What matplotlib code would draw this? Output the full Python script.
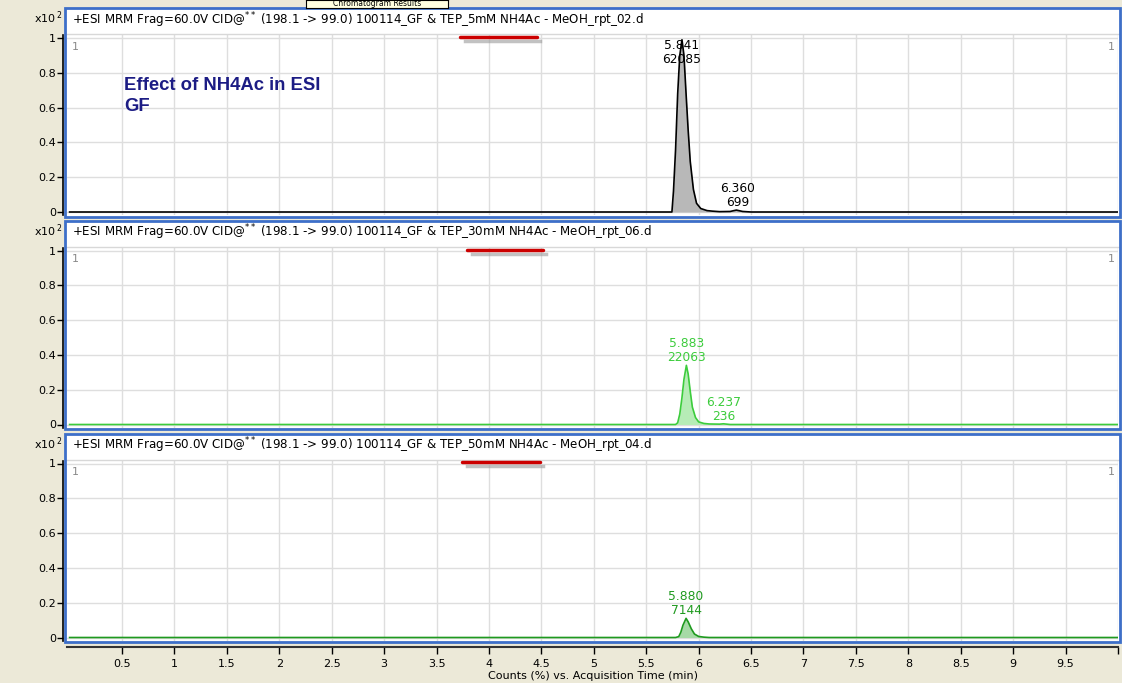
import matplotlib
matplotlib.use("Agg")
import matplotlib.pyplot as plt
from matplotlib.patches import Rectangle
from matplotlib.lines import Line2D

W, H = 1122, 683

# ---------------- data ----------------
headers = [
    "+ESI MRM Frag=60.0V CID@$^{**}$ (198.1 -> 99.0) 100114_GF & TEP_5mM NH4Ac - MeOH_rpt_02.d",
    "+ESI MRM Frag=60.0V CID@$^{**}$ (198.1 -> 99.0) 100114_GF & TEP_30mM NH4Ac - MeOH_rpt_06.d",
    "+ESI MRM Frag=60.0V CID@$^{**}$ (198.1 -> 99.0) 100114_GF & TEP_50mM NH4Ac - MeOH_rpt_04.d",
]

time_5mM = [0.0, 5.70, 5.745, 5.76, 5.78, 5.80, 5.82, 5.841, 5.86, 5.88, 5.90, 5.92,
            5.95, 5.98, 6.02, 6.08, 6.13, 6.20, 6.30, 6.36, 6.42, 6.50, 10.0]
resp_5mM = [0.0, 0.0, 0.0, 0.12, 0.36, 0.68, 0.90, 0.99, 0.90, 0.68, 0.47, 0.29,
            0.13, 0.05, 0.02, 0.008, 0.005, 0.002, 0.003, 0.011, 0.003, 0.0, 0.0]

time_30mM = [0.0, 5.78, 5.80, 5.82, 5.84, 5.86, 5.883, 5.90, 5.92, 5.94, 5.97,
             6.00, 6.05, 6.10, 6.20, 6.237, 6.30, 10.0]
resp_30mM = [0.0, 0.0, 0.01, 0.06, 0.15, 0.26, 0.34, 0.29, 0.19, 0.10, 0.04,
             0.015, 0.006, 0.003, 0.002, 0.004, 0.0, 0.0]

time_50mM = [0.0, 5.78, 5.81, 5.83, 5.85, 5.88, 5.90, 5.93, 5.96, 6.00, 6.05, 6.10, 10.0]
resp_50mM = [0.0, 0.0, 0.005, 0.03, 0.07, 0.11, 0.09, 0.05, 0.02, 0.006, 0.002, 0.0, 0.0]

peak_labels = [
    [(5.841, "5.841\n62085"), (6.370, "6.360\n699")],
    [(5.883, "5.883\n22063"), (6.237, "6.237\n236")],
    [(5.880, "5.880\n7144")],
]

series_t = [time_5mM, time_30mM, time_50mM]
series_v = [resp_5mM, resp_30mM, resp_50mM]

x_ticks = [0.5, 1, 1.5, 2, 2.5, 3, 3.5, 4, 4.5, 5, 5.5, 6, 6.5, 7, 7.5, 8, 8.5, 9, 9.5, 10]
x_ticklabels = ["0.5", "1", "1.5", "2", "2.5", "3", "3.5", "4", "4.5", "5", "5.5", "6",
                "6.5", "7", "7.5", "8", "8.5", "9", "9.5", ""]
y_ticks = [0, 0.2, 0.4, 0.6, 0.8, 1]
y_ticklabels = ["0", "0.2", "0.4", "0.6", "0.8", "1"]

# ---------------- style ----------------
line_colors = ["#000000", "#3ccc3c", "#1f9a1f"]
fill_colors = ["#b8b8b8", "#b6ecb6", "#a6daa6"]
label_colors = ["#000000", "#3ccc3c", "#1f9a1f"]
label_y = [[0.84, 0.017], [0.35, 0.01], [0.115]]
bg = "#ECE9D8"
blue = "#3D6FC9"

plt.rcParams["font.family"] = ["DejaVu Sans"]
fig = plt.figure(figsize=(W / 100, H / 100), dpi=100, facecolor=bg)


def fx(x):
    return x / W


def fy(y):
    return 1 - y / H


offsets = [0, 212.5, 425.5]
ax_left, ax_right = 67, 1118
for k in range(3):
    d = offsets[k]
    top_px, bot_px = 8 + d, 216.5 + d
    fig.patches.append(Rectangle((fx(65), fy(bot_px)), fx(1120) - fx(65), fy(top_px) - fy(bot_px),
                                 transform=fig.transFigure, facecolor="white",
                                 edgecolor="none", zorder=-5))
    fig.patches.append(Rectangle((fx(65), fy(bot_px)), fx(1120) - fx(65), fy(top_px) - fy(bot_px),
                                 transform=fig.transFigure, facecolor="none",
                                 edgecolor=blue, linewidth=2.0, zorder=5))
    fig.lines.append(Line2D([fx(66), fx(1119)], [fy(34 + d), fy(34 + d)], transform=fig.transFigure,
                            color="#d8d8d8", linewidth=1.0, zorder=4))
    fig.text(fx(72), fy(20 + d), headers[k], fontsize=8.6, va="center", ha="left", color="#000000",
             zorder=6)
    fig.text(fx(62), fy(18 + d), r"x10$^{\,2}$", fontsize=8, va="center", ha="right", color="#000000",
             zorder=6)

    a_top, a_bot = 35 + d, 215 + d
    ax = fig.add_axes([fx(ax_left), fy(a_bot), fx(ax_right) - fx(ax_left), fy(a_top) - fy(a_bot)])
    ax.set_zorder(1)
    ax.patch.set_alpha(0)
    ax.set_xlim(-0.025, 10.0)
    ax.set_ylim((212 - 215) / 174.0, (212 - 35) / 174.0)
    for s in ["top", "right", "bottom"]:
        ax.spines[s].set_visible(False)
    ax.spines["left"].set_position(("outward", 3))
    ax.spines["left"].set_color("black")
    ax.spines["left"].set_linewidth(1.2)
    ax.set_yticks(y_ticks)
    ax.set_yticklabels(y_ticklabels, fontsize=8)
    ax.tick_params(axis="y", direction="out", length=4, width=1, pad=1)
    ax.set_xticks(x_ticks)
    ax.grid(True, color="#dedede", linewidth=1.0)
    ax.set_axisbelow(True)
    if k < 2:
        ax.tick_params(axis="x", length=0, labelbottom=False)
    else:
        ax.spines["bottom"].set_visible(True)
        ax.spines["bottom"].set_position(("outward", 5))
        ax.spines["bottom"].set_color("#333333")
        ax.spines["bottom"].set_linewidth(1.5)
        ax.set_xticklabels(x_ticklabels, fontsize=8)
        ax.tick_params(axis="x", direction="out", length=5, width=1, pad=3)
        ax.set_xlabel("Counts (%) vs. Acquisition Time (min)", fontsize=8, labelpad=2)

    t, v = series_t[k], series_v[k]
    ax.fill_between(t, 0, v, color=fill_colors[k], linewidth=0, zorder=2)
    ax.plot(t, v, color=line_colors[k], linewidth=1.2, zorder=3)

    for (pt, txt), ly in zip(peak_labels[k], label_y[k]):
        ax.text(pt, ly, txt, fontsize=8.8, ha="center", va="bottom", color=label_colors[k],
                linespacing=1.1, zorder=4)

    ax.text(0.005, 0.935, "1", transform=ax.transAxes, fontsize=8, color="#8a8a8a", ha="left", va="center")
    ax.text(0.997, 0.935, "1", transform=ax.transAxes, fontsize=8, color="#8a8a8a", ha="right", va="center")

fig.text(fx(124), fy(77), "Effect of NH4Ac in ESI\nGF", fontsize=13.3, fontweight="bold",
         family=["Liberation Sans", "DejaVu Sans"], color="#1c1c84", va="top", ha="left",
         linespacing=1.3, zorder=6)

underlines = [(460, 537, 37), (467, 543, 250), (462, 540, 462)]
for x0, x1, yy in underlines:
    fig.lines.append(Line2D([fx(x0 + 5), fx(x1 + 3)], [fy(yy + 4), fy(yy + 4)], transform=fig.transFigure,
                            color="#9a9a9a", linewidth=2.5, alpha=0.6, zorder=7))
    fig.lines.append(Line2D([fx(x0), fx(x1)], [fy(yy), fy(yy)], transform=fig.transFigure,
                            color="#cc0000", linewidth=2.5, solid_capstyle="round", zorder=8))

# tooltip at the top edge
tip = fig.add_axes([fx(306), fy(8), fx(448) - fx(306), fy(0) - fy(8)])
tip.set_zorder(9)
tip.set_xlim(0, 1)
tip.set_ylim(0, 1)
tip.set_facecolor("#FFFFE1")
for s in tip.spines.values():
    s.set_color("black")
    s.set_linewidth(0.8)
tip.set_xticks([])
tip.set_yticks([])
tip.text(0.5, 0.5, "Chromatogram Results", fontsize=5.5, va="center", ha="center")

fig.savefig("out.png", dpi=100, facecolor=bg)
